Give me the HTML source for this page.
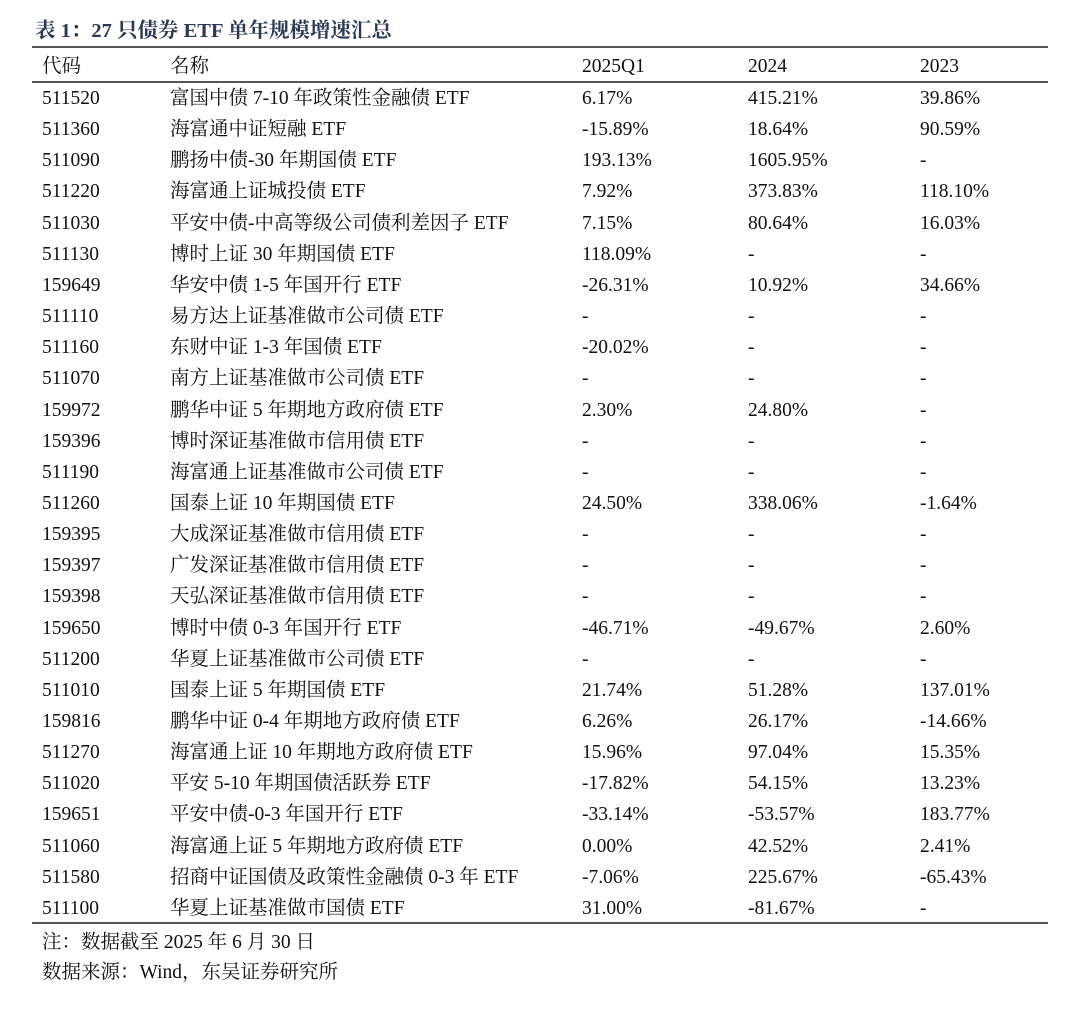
<!DOCTYPE html>
<html><head><meta charset="utf-8"><style>
body{margin:0;width:1080px;height:1029px;background:#fff;position:relative;font-family:"Liberation Serif","Noto Serif CJK SC",serif;color:#111;font-size:19.5px;}
.t{position:absolute;white-space:nowrap;line-height:20px;}
.l{position:absolute;left:32px;width:1016px;background:#555;}
</style></head><body>
<div class="t" style="left:35px;top:21px;font-weight:bold;color:#2a3a55;font-size:20.5px">表 1：27 只债券 ETF 单年规模增速汇总</div>
<div class="l" style="top:46px;height:2px"></div>
<div class="l" style="top:81px;height:1.5px"></div>
<div class="l" style="top:922px;height:2px"></div>
<div id="rows"></div>
<div class="t" style="left:42px;top:933px">注：数据截至 2025 年 6 月 30 日</div>
<div class="t" style="left:42px;top:963px">数据来源：Wind，东吴证券研究所</div>
<script>
var h=[["代码","名称","2025Q1","2024","2023"]];
var d=`511520|富国中债 7-10 年政策性金融债 ETF|6.17%|415.21%|39.86%
511360|海富通中证短融 ETF|-15.89%|18.64%|90.59%
511090|鹏扬中债-30 年期国债 ETF|193.13%|1605.95%|-
511220|海富通上证城投债 ETF|7.92%|373.83%|118.10%
511030|平安中债-中高等级公司债利差因子 ETF|7.15%|80.64%|16.03%
511130|博时上证 30 年期国债 ETF|118.09%|-|-
159649|华安中债 1-5 年国开行 ETF|-26.31%|10.92%|34.66%
511110|易方达上证基准做市公司债 ETF|-|-|-
511160|东财中证 1-3 年国债 ETF|-20.02%|-|-
511070|南方上证基准做市公司债 ETF|-|-|-
159972|鹏华中证 5 年期地方政府债 ETF|2.30%|24.80%|-
159396|博时深证基准做市信用债 ETF|-|-|-
511190|海富通上证基准做市公司债 ETF|-|-|-
511260|国泰上证 10 年期国债 ETF|24.50%|338.06%|-1.64%
159395|大成深证基准做市信用债 ETF|-|-|-
159397|广发深证基准做市信用债 ETF|-|-|-
159398|天弘深证基准做市信用债 ETF|-|-|-
159650|博时中债 0-3 年国开行 ETF|-46.71%|-49.67%|2.60%
511200|华夏上证基准做市公司债 ETF|-|-|-
511010|国泰上证 5 年期国债 ETF|21.74%|51.28%|137.01%
159816|鹏华中证 0-4 年期地方政府债 ETF|6.26%|26.17%|-14.66%
511270|海富通上证 10 年期地方政府债 ETF|15.96%|97.04%|15.35%
511020|平安 5-10 年期国债活跃券 ETF|-17.82%|54.15%|13.23%
159651|平安中债-0-3 年国开行 ETF|-33.14%|-53.57%|183.77%
511060|海富通上证 5 年期地方政府债 ETF|0.00%|42.52%|2.41%
511580|招商中证国债及政策性金融债 0-3 年 ETF|-7.06%|225.67%|-65.43%
511100|华夏上证基准做市国债 ETF|31.00%|-81.67%|-`.split("\n").map(s=>s.split("|"));
var xs=[42,170,582,748,920],o="";
function row(r,y){r.forEach((c,i)=>{o+='<div class="t" style="left:'+xs[i]+'px;top:'+(y-8)+'px">'+c+'</div>';});}
row(h[0],65);
d.forEach((r,i)=>row(r,97+i*31.15));
document.getElementById("rows").innerHTML=o;
</script>
</body></html>
